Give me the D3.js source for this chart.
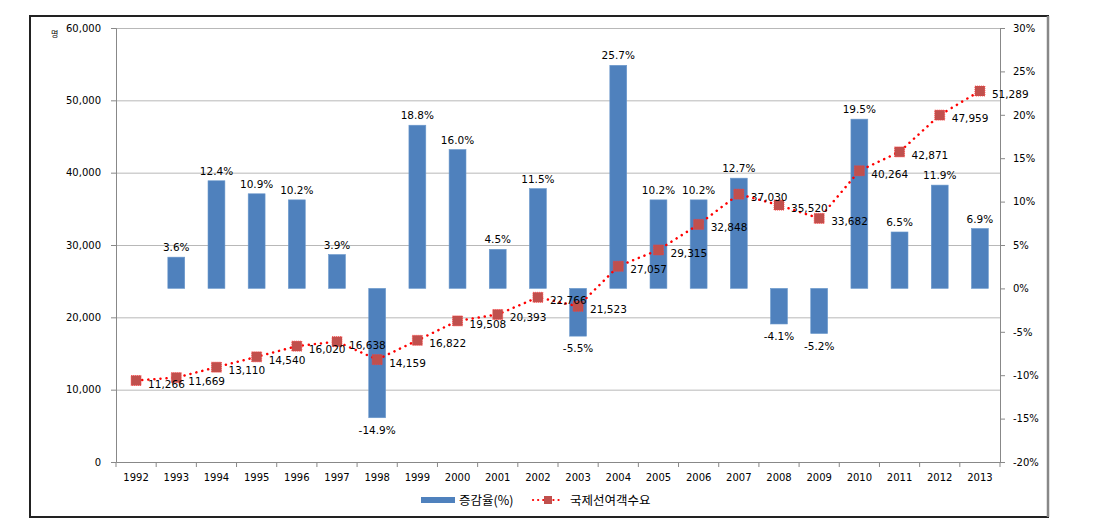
<!DOCTYPE html>
<html><head><meta charset="utf-8">
<script src="https://cdn.jsdelivr.net/npm/d3@7"></script>
<style>body{margin:0;background:#fff;}svg{display:block;font-family:"DejaVu Sans",Verdana,sans-serif;}</style>
</head><body><svg id="c" width="1113" height="530"></svg>
<script>
const years = ["1992","1993","1994","1995","1996","1997","1998","1999","2000","2001","2002","2003","2004","2005","2006","2007","2008","2009","2010","2011","2012","2013"];
const growth = [null,3.6,12.4,10.9,10.2,3.9,-14.9,18.8,16.0,4.5,11.5,-5.5,25.7,10.2,10.2,12.7,-4.1,-5.2,19.5,6.5,11.9,6.9];
const demand = [11266,11669,13110,14540,16020,16638,14159,16822,19508,20393,22766,21523,27057,29315,32848,37030,35520,33682,40264,42871,47959,51289];
const leftTicks = [0,10000,20000,30000,40000,50000,60000];
const rightTicks = [-20,-15,-10,-5,0,5,10,15,20,25,30];
const legendLabels = ["증감율(%)","국제선여객수요"];
const unitLabel = "명";

const svg = d3.select("#c");
const L = 116, R = 1000, T = 28, B = 462;

svg.append("rect").attr("x",30).attr("y",16).attr("width",1018).attr("height",501)
  .attr("fill","#fff").attr("stroke","#222").attr("stroke-width",2);
svg.append("line").attr("x1",1048).attr("x2",1048).attr("y1",16).attr("y2",517).attr("stroke","#888").attr("stroke-width",2.5);

const x = d3.scaleBand().domain(years).range([L,R]).paddingInner(0.58).paddingOuter(0.29);
const xb = d3.scaleBand().domain(years).range([L,R]);
const yL = d3.scaleLinear().domain([0,60000]).range([B,T]);
const yR = d3.scaleLinear().domain([-20,30]).range([B,T]);

// grid
svg.append("g").selectAll("line").data(leftTicks.slice(1)).join("line")
  .attr("x1",L).attr("x2",R).attr("y1",d=>yL(d)+0.5).attr("y2",d=>yL(d)+0.5)
  .attr("stroke","#b8b8b8").attr("stroke-width",1);

// axes
const gl = svg.append("g").attr("transform",`translate(${L},0)`)
  .call(d3.axisLeft(yL).tickValues(leftTicks).tickFormat(d3.format(",")).tickSize(5).tickPadding(10));
const gr = svg.append("g").attr("transform",`translate(${R},0)`)
  .call(d3.axisRight(yR).tickValues(rightTicks).tickFormat(d=>d+"%").tickSize(5).tickPadding(8));
const gx = svg.append("g").attr("transform",`translate(0,${B})`)
  .call(d3.axisBottom(xb).tickSize(0).tickPadding(10));
[gl,gr,gx].forEach(g=>{
  g.select(".domain").attr("stroke","#888");
  g.selectAll(".tick line").attr("stroke","#888");
  g.selectAll("text").attr("fill","#000").attr("font-size","10px").attr("font-family","DejaVu Sans");
});
gx.selectAll(".tick text").attr("dy","0.9em");
// x tick marks between categories
svg.append("g").selectAll("line").data(years.concat(["end"])).join("line")
  .attr("x1",(d,i)=>L+i*xb.step()).attr("x2",(d,i)=>L+i*xb.step())
  .attr("y1",B).attr("y2",B+5).attr("stroke","#888");

svg.append("text").attr("x",51).attr("y",37).attr("font-size","8px").attr("font-family","Noto Sans CJK KR").text(unitLabel);

// bars
const bd = years.map((y,i)=>({y,v:growth[i]})).filter(d=>d.v!==null);
svg.append("g").selectAll("rect").data(bd).join("rect")
  .attr("x",d=>x(d.y)).attr("width",x.bandwidth())
  .attr("y",d=>yR(Math.max(0,d.v))).attr("height",d=>Math.abs(yR(d.v)-yR(0)))
  .attr("fill","#4f81bd").attr("stroke","#6a98cc").attr("stroke-width",0.6);
svg.append("g").selectAll("text").data(bd).join("text")
  .attr("x",d=>x(d.y)+x.bandwidth()/2)
  .attr("y",d=>d.v>=0 ? yR(d.v)-6 : yR(d.v)+16)
  .attr("text-anchor","middle").attr("font-size","10.5px").attr("fill","#000")
  .text(d=>d.v.toFixed(1)+"%");

// line
const cx = d=>xb(d)+xb.bandwidth()/2;
const ld = years.map((y,i)=>({y,v:demand[i]}));
svg.append("path").datum(ld)
  .attr("d",d3.line().x(d=>cx(d.y)).y(d=>yL(d.v)))
  .attr("fill","none").attr("stroke","#ff0000").attr("stroke-width",2.5)
  .attr("stroke-dasharray","0.1 6").attr("stroke-linecap","round");
svg.append("g").selectAll("rect").data(ld).join("rect")
  .attr("x",d=>cx(d.y)-5).attr("y",d=>yL(d.v)-5).attr("width",10).attr("height",10)
  .attr("fill","#c0504d").attr("stroke","#ff3b3b").attr("stroke-width",0.8).attr("stroke-dasharray","1 1");
svg.append("g").selectAll("text").data(ld).join("text")
  .attr("x",d=>cx(d.y)+12).attr("y",d=>yL(d.v)+7)
  .attr("font-size","10.5px").attr("fill","#000")
  .text(d=>d3.format(",")(d.v));

// legend
svg.append("rect").attr("x",421).attr("y",497).attr("width",34).attr("height",6).attr("fill","#4f81bd");
svg.append("text").attr("x",459).attr("y",505).attr("font-size","12.5px").attr("font-family","Noto Sans CJK KR").text(legendLabels[0]);
svg.append("line").attr("x1",533).attr("x2",562).attr("y1",500).attr("y2",500)
  .attr("stroke","#ff0000").attr("stroke-width",2.2).attr("stroke-dasharray","0.1 5").attr("stroke-linecap","round");
svg.append("rect").attr("x",544).attr("y",496).attr("width",8).attr("height",8).attr("fill","#c0504d");
svg.append("text").attr("x",570).attr("y",505).attr("font-size","12.5px").attr("font-family","Noto Sans CJK KR").text(legendLabels[1]);
</script></body></html>
